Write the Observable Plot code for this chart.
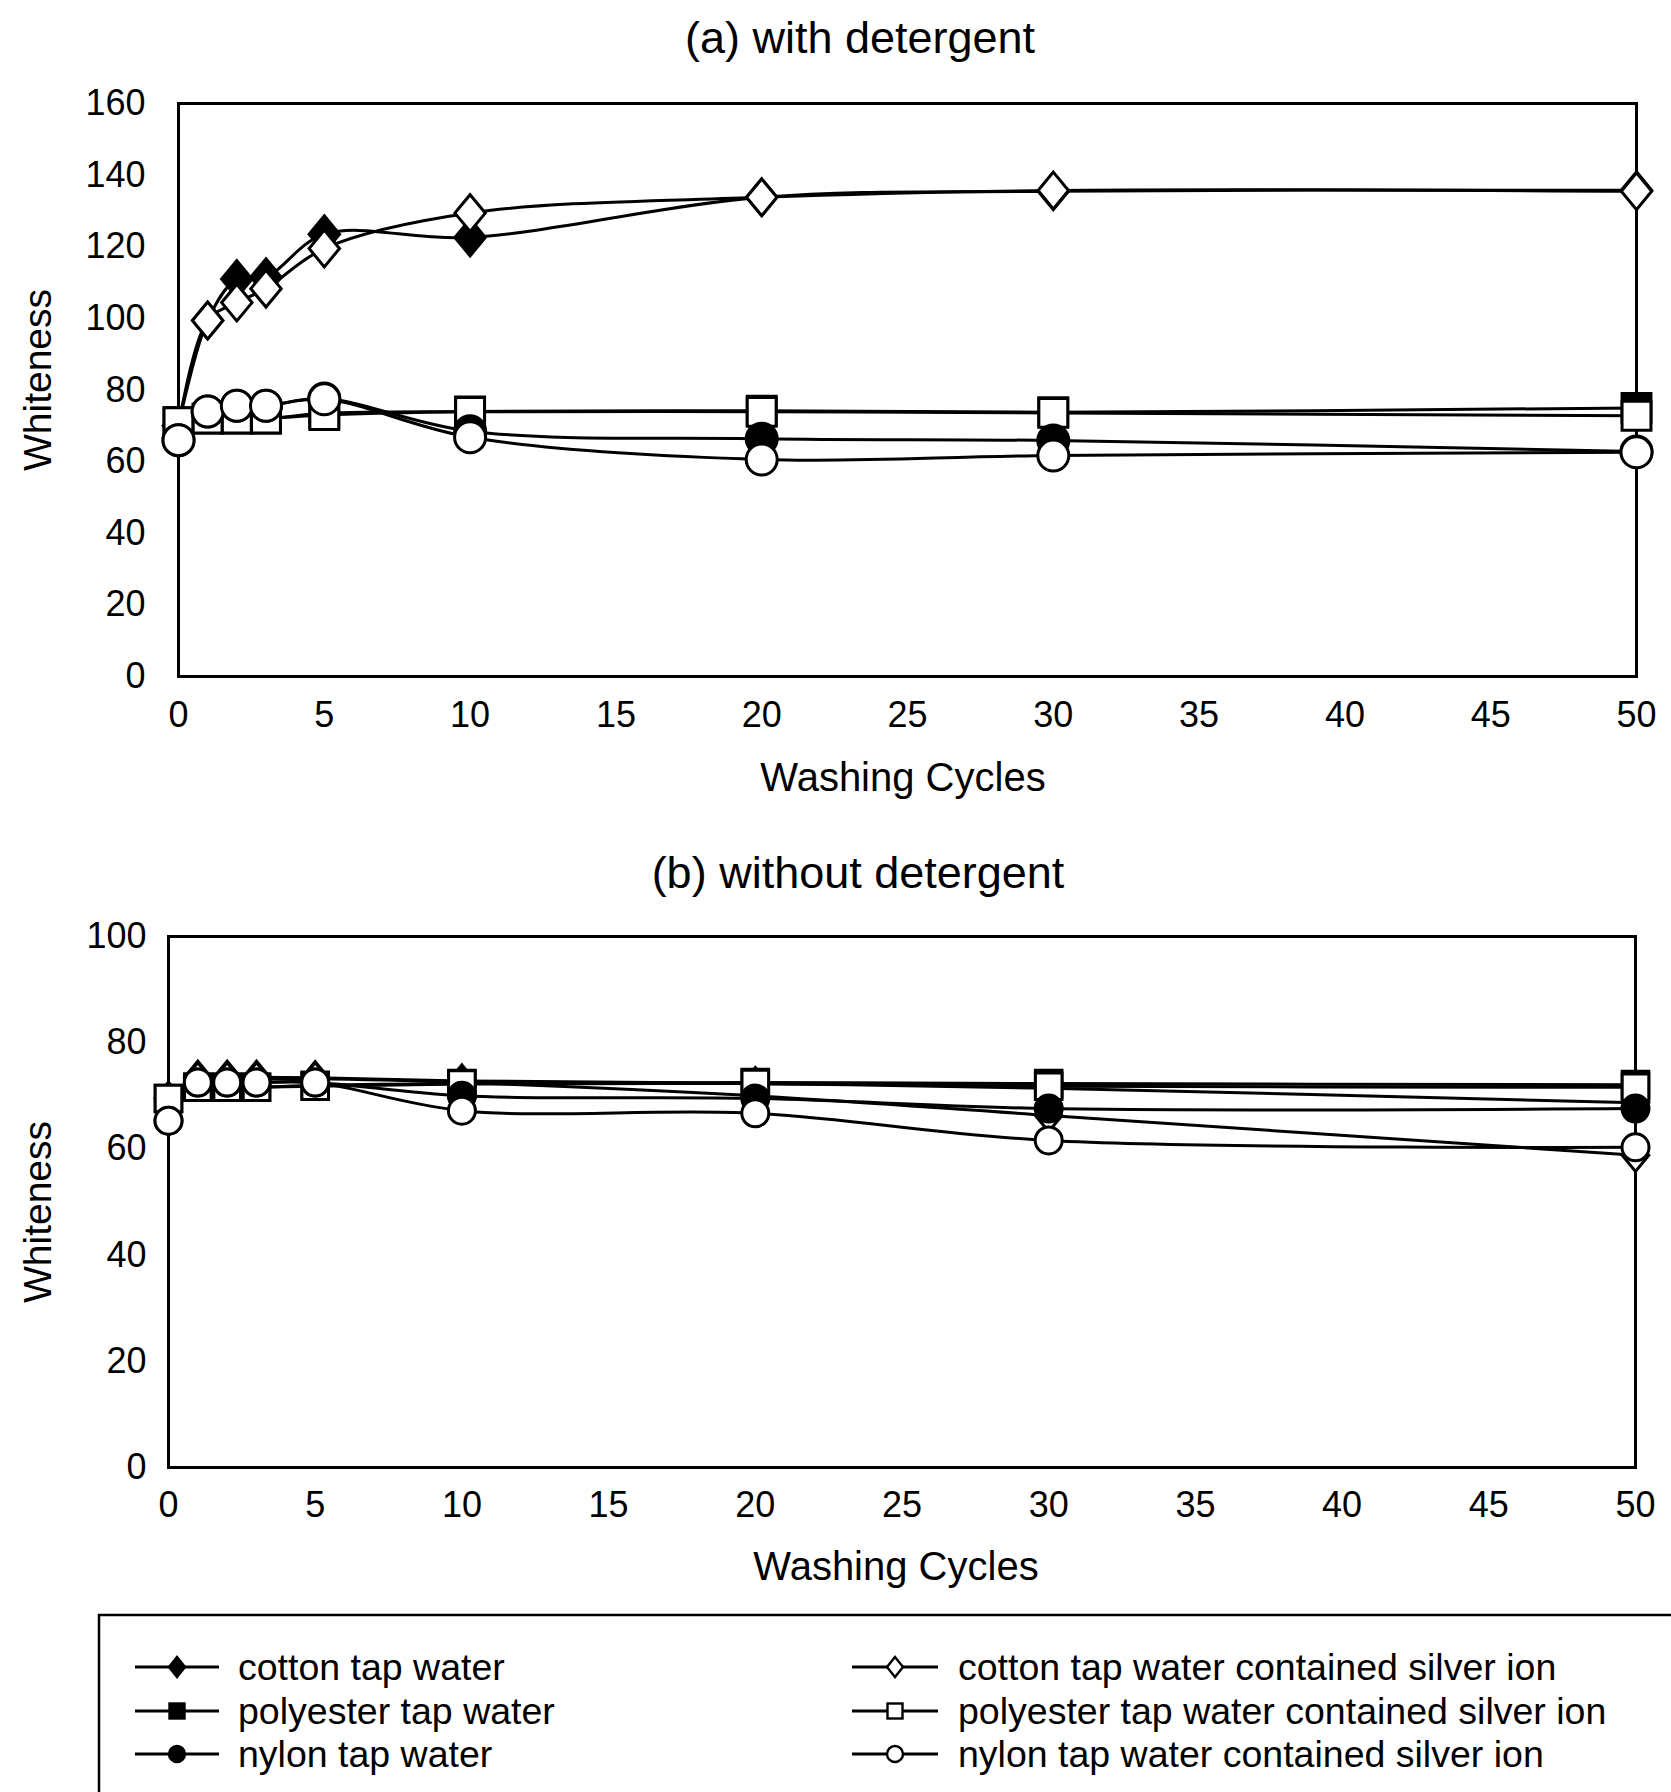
<!DOCTYPE html>
<html><head><meta charset="utf-8">
<script src="https://cdn.jsdelivr.net/npm/d3@7"></script>
<script src="https://cdn.jsdelivr.net/npm/@observablehq/plot@0.6"></script>
<style>
body{margin:0;background:#fff;font-family:"Liberation Sans",Arial,sans-serif;}
#root{position:relative;width:1671px;height:1792px;overflow:hidden;background:#fff;}
.t{position:absolute;white-space:nowrap;color:#000;transform:translate(-50%,-50%);line-height:1;}
.panel{position:absolute;left:0;}
</style></head><body><div id="root"></div>
<script>
// ---------- data ----------
const cycles = [0, 1, 2, 3, 5, 10, 20, 30, 50];
const seriesNames = [
  "cotton tap water",
  "cotton tap water contained silver ion",
  "polyester tap water",
  "polyester tap water contained silver ion",
  "nylon tap water",
  "nylon tap water contained silver ion"
];
const xTicks = [0, 5, 10, 15, 20, 25, 30, 35, 40, 45, 50];
const yTicksA = [0, 20, 40, 60, 80, 100, 120, 140, 160];
const yTicksB = [0, 20, 40, 60, 80, 100];

// (a) with detergent
const cottonTapA       = [70, 99.4, 111, 111.5, 123.5, 122.6, 133.8, 135.5, 135.8];
const cottonSilverA    = [70, 99.4, 104.4, 108.3, 119.5, 129.4, 133.8, 135.7, 135.5];
const polyesterTapA    = [71, 72, 72, 72, 73.5, 74, 74.2, 73.8, 75];
const polyesterSilverA = [71, 72, 72, 72, 73, 73.9, 73.9, 73.6, 72.8];
const nylonTapA        = [66, 74, 75.6, 75.6, 77.6, 68.5, 66.4, 65.9, 62.8];
const nylonSilverA     = [66, 74, 75.6, 75.6, 77.4, 66.8, 60.6, 61.7, 62.6];

// (b) without detergent
const cottonTapB       = [69.5, 73.5, 73.5, 73.5, 73.4, 72.8, 72.3, 71.4, 68.7];
const cottonSilverB    = [69.5, 73.2, 73.2, 73.2, 73.2, 72.5, 70, 66.3, 58.8];
const polyesterTapB    = [69.5, 71.6, 71.6, 71.6, 72, 72.3, 72.5, 72.3, 72.1];
const polyesterSilverB = [69.5, 71.6, 71.6, 71.6, 71.8, 72.2, 72.3, 71.8, 71.6];
const nylonTapB        = [65.3, 72.5, 72.5, 72.5, 72.5, 70, 69.5, 67.6, 67.6];
const nylonSilverB     = [65.3, 72.5, 72.5, 72.5, 72.5, 67.2, 66.7, 61.6, 60.3];

const valuesA = [cottonTapA, cottonSilverA, polyesterTapA, polyesterSilverA, nylonTapA, nylonSilverA];
const valuesB = [cottonTapB, cottonSilverB, polyesterTapB, polyesterSilverB, nylonTapB, nylonSilverB];

// ---------- styles ----------
const tallDiamond = {
  draw(ctx, size) {
    const r = Math.sqrt(size / Math.PI);
    const h = r * 1.15, w = r * 0.95;
    ctx.moveTo(0, -h); ctx.lineTo(w, 0); ctx.lineTo(0, h); ctx.lineTo(-w, 0); ctx.closePath();
  }
};
const symbols = [tallDiamond, tallDiamond, "square", "square", "circle", "circle"];
const fills = ["#000", "#fff", "#000", "#fff", "#000", "#fff"];

function rows(values) {
  const out = [];
  values.forEach((vals, s) => vals.forEach((v, i) => out.push({series: seriesNames[s], s, x: cycles[i], y: v})));
  return out;
}

const FONT = "'Liberation Sans', Arial, Helvetica, sans-serif";
const root = document.getElementById("root");

function panel({data, top, height, mTop, mBottom, mLeft, mRight, yMax, yTicks, yPad, xPad, rDia, rSq, rCir}) {
  const marks = [
    Plot.frame({stroke: "#000", strokeWidth: 3}),
    Plot.axisX({ticks: xTicks, tickSize: 0, tickPadding: xPad, label: null, tickFormat: d => String(d)}),
    Plot.axisY({ticks: yTicks, tickSize: 0, tickPadding: yPad, label: null, tickFormat: d => String(d)}),
    Plot.line(data, {x: "x", y: "y", z: "series", curve: "catmull-rom", stroke: "#000", strokeWidth: 3})
  ];
  const radii = [rDia, rDia, rSq, rSq, rCir, rCir];
  seriesNames.forEach((name, s) => {
    marks.push(Plot.dot(data.filter(d => d.s === s), {
      x: "x", y: "y", symbol: symbols[s], r: radii[s],
      fill: fills[s], stroke: "#000", strokeWidth: 3
    }));
  });
  const svg = Plot.plot({
    width: 1671, height,
    marginTop: mTop, marginBottom: mBottom, marginLeft: mLeft, marginRight: mRight,
    x: {domain: [0, 50]},
    y: {domain: [0, yMax]},
    style: {fontFamily: FONT, fontSize: "36px", color: "#000", background: "transparent", overflow: "visible"},
    marks
  });
  const wrap = document.createElement("div");
  wrap.className = "panel";
  wrap.style.top = top + "px";
  wrap.appendChild(svg);
  root.appendChild(wrap);
}

function text(str, x, y, size, rotate) {
  const d = document.createElement("div");
  d.className = "t";
  d.textContent = str;
  d.style.left = x + "px";
  d.style.top = y + "px";
  d.style.fontSize = size + "px";
  d.style.fontFamily = FONT;
  if (rotate) d.style.transform = "translate(-50%,-50%) rotate(-90deg)";
  root.appendChild(d);
}

// panel (a): frame x 178..1636, y 103..676
panel({data: rows(valuesA), top: 0, height: 760, mTop: 103, mBottom: 760 - 676, mLeft: 178, mRight: 1671 - 1636,
  yMax: 160, yTicks: yTicksA, yPad: 33, xPad: 25, rDia: 16, rSq: 16.3, rCir: 15.5});
// panel (b): frame x 168..1635, y 936..1467
panel({data: rows(valuesB), top: 830, height: 720, mTop: 936 - 830, mBottom: 830 + 720 - 1467, mLeft: 168, mRight: 1671 - 1635,
  yMax: 100, yTicks: yTicksB, yPad: 22, xPad: 24, rDia: 14, rSq: 15, rCir: 13.5});

text("(a) with detergent", 860, 37, 45);
text("Washing Cycles", 903, 777, 40);
text("Whiteness", 37, 380, 39, true);
text("(b) without detergent", 858, 872, 45);
text("Washing Cycles", 896, 1566, 40);
text("Whiteness", 37, 1212, 39, true);

// ---------- legend ----------
const NS = "http://www.w3.org/2000/svg";
const leg = document.createElementNS(NS, "svg");
leg.setAttribute("width", 1671); leg.setAttribute("height", 200);
leg.style.position = "absolute"; leg.style.left = "0px"; leg.style.top = "1600px";
root.appendChild(leg);
function el(tag, attrs) { const e = document.createElementNS(NS, tag); for (const k in attrs) e.setAttribute(k, attrs[k]); leg.appendChild(e); return e; }
el("rect", {x: 99, y: 15, width: 1700, height: 400, fill: "none", stroke: "#000", "stroke-width": 2.5});
const legendCols = [{x0: 135, x1: 219, tx: 238}, {x0: 852, x1: 938, tx: 958}];
const legendRows = [67, 111, 154];
seriesNames.forEach((name, s) => {
  const col = legendCols[s % 2];
  const y = legendRows[Math.floor(s / 2)];
  const cx = (col.x0 + col.x1) / 2;
  el("line", {x1: col.x0, x2: col.x1, y1: y, y2: y, stroke: "#000", "stroke-width": 2.8});
  const sym = s < 2 ? "d" : s < 4 ? "s" : "c";
  const attrs = {fill: fills[s], stroke: "#000", "stroke-width": 2.4};
  if (sym === "d") el("path", Object.assign({d: `M${cx},${y - 10}L${cx + 8},${y}L${cx},${y + 10}L${cx - 8},${y}Z`}, attrs));
  else if (sym === "s") el("rect", Object.assign({x: cx - 7.5, y: y - 7.5, width: 15, height: 15}, attrs));
  else el("circle", Object.assign({cx, cy: y, r: 8}, attrs));
  const t = el("text", {x: col.tx, y, "dominant-baseline": "central", "font-size": 37.5, "font-family": FONT, fill: "#000"});
  t.textContent = name;
});
</script>
</body></html>
